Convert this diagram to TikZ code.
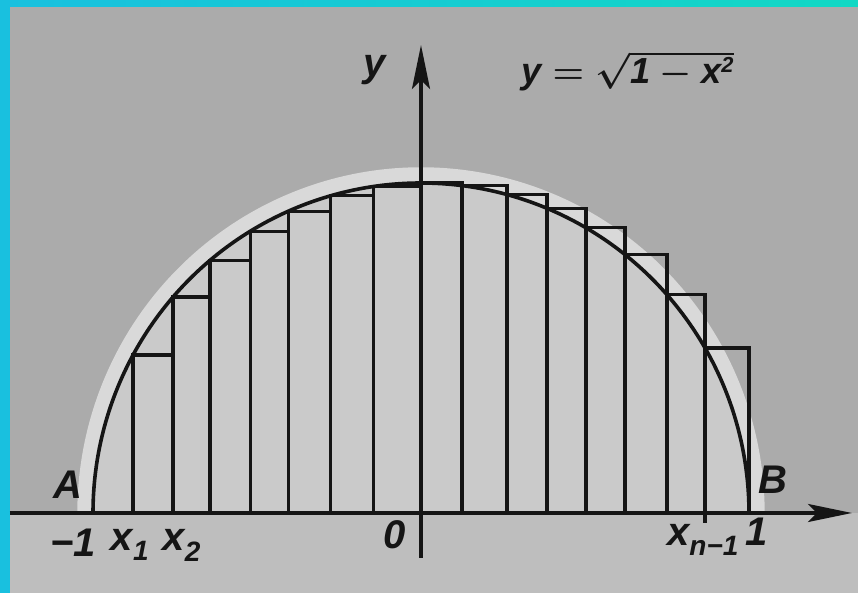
\documentclass[tikz,border=0pt]{standalone}
\usepackage{fontspec}
\setmainfont{Liberation Sans}
\usetikzlibrary{arrows.meta}
\definecolor{Frame}{HTML}{19C0DF}
\definecolor{FrameTop}{HTML}{12D8C4}
\definecolor{Paper}{HTML}{ABABAB}
\definecolor{PaperLow}{HTML}{BEBEBE}
\definecolor{Inside}{HTML}{CACACA}
\definecolor{Ink}{HTML}{151515}
\tikzset{
  axis/.style={line width=3.6pt, draw=Ink, -{Stealth[length=44pt,width=18pt,inset=9pt]}},
  bar/.style={line width=3.2pt, draw=Ink},
  curve/.style={line width=3.6pt, draw=Ink},
  lbl/.style={text=Ink, font=\fontsize{40}{46}\selectfont\bfseries\itshape, inner sep=0pt}
}

\begin{document}
\begin{tikzpicture}[x=328pt,y=330pt]
\useasboundingbox (-1.2835,-0.2424) rectangle (1.3323,1.5545);
\fill[Paper] (-1.2835,0) rectangle (1.3323,1.5545);
\fill[PaperLow] (-1.2835,-0.2424) rectangle (1.3323,0);
\fill[Frame] (-1.2835,-0.2424) rectangle (-1.253,1.5545);
\shade[left color=Frame,right color=FrameTop] (-1.2835,1.5333) rectangle (1.3323,1.5545);
\draw[white,opacity=.55,line width=15pt] plot[domain=0:180,samples=90,smooth] ({1.025*cos(\x)},{1.025*sin(\x)});
\fill[Inside] plot[domain=0:180,samples=90,smooth] ({cos(\x)},{sin(\x)}) -- cycle;
\foreach \a/\b in {-0.878/-0.756,-0.756/-0.643,-0.643/-0.521,-0.521/-0.405,-0.405/-0.277,-0.277/-0.146,-0.146/0,
                   0/0.125,0.125/0.262,0.262/0.384,0.384/0.503,0.503/0.622,0.622/0.750,0.750/0.866,0.866/1}
  \draw[bar] (\a,0) rectangle (\b,{sqrt(1-(\a)*(\a))});
\draw[bar] (0.866,0) -- (0.866,-0.03);
\draw[curve] plot[domain=0:180,samples=120,smooth] ({cos(\x)},{sin(\x)});
\coordinate (xs) at (-1.253,0);
\coordinate (xe) at (1.314,0);
\coordinate (ys) at (0,-0.136);
\coordinate (ye) at (0,1.418);
\draw[axis] (xs) -- (xe);
\draw[axis] (ys) -- (ye);
\node[lbl] (A) at (-1.076,0.085) {A};
\node[lbl] (B) at (1.073,0.100) {B};
\node[lbl] (mone) at (-1.061,-0.091) {−1};
\node[lbl] (xone) at (-0.887,-0.097) {x\textsubscript{1}};
\node[lbl] (xtwo) at (-0.729,-0.097) {x\textsubscript{2}};
\node[lbl] (zero) at (-0.079,-0.067) {0};
\node[lbl] (xlast) at (0.860,-0.082) {x\textsubscript{n−1}};
\node[lbl] (one) at (1.024,-0.058) {1};
\node[lbl] (ylab) at (-0.140,1.342) {y};
\node[lbl] (eq) at (0.630,1.340) {\scalebox{1.45}{\fontsize{25}{30}\selectfont\boldmath$\textit{y}=\sqrt{\textit{1}-\textit{x}^{\mbox{\fontsize{15}{18}\selectfont 2}}}$}};
\end{tikzpicture}
\end{document}
